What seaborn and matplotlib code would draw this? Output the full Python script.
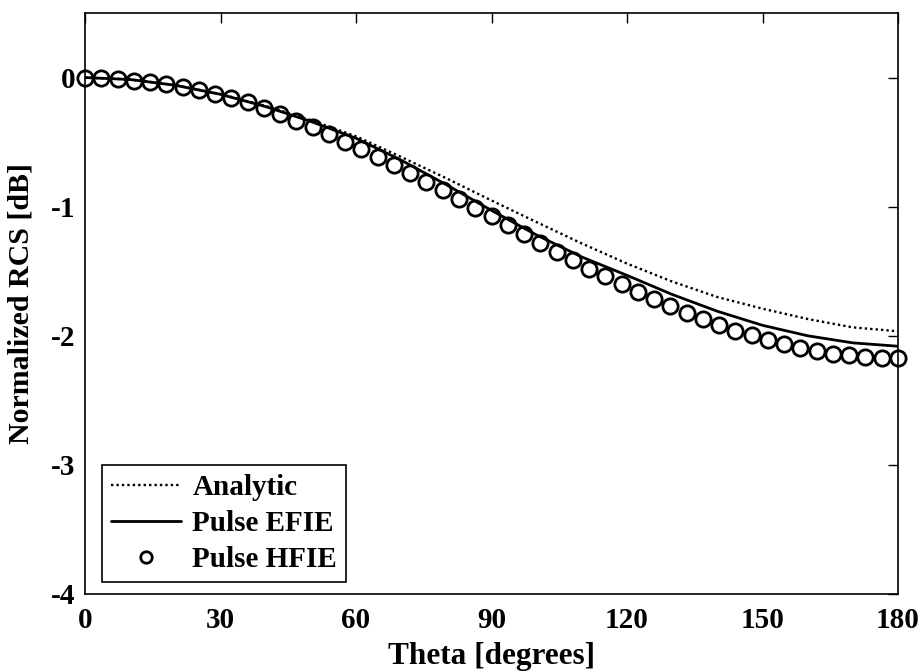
import numpy as np
import pandas as pd
import matplotlib
matplotlib.use("Agg")
import matplotlib.pyplot as plt
import seaborn as sns

# ---- data ----
theta_curve = [0, 10, 20, 30, 40, 50, 60, 70, 80, 90, 100, 110, 120, 130, 140, 150, 160, 170, 180]
analytic = [0.0, -0.015, -0.058, -0.128, -0.22, -0.33, -0.455, -0.615, -0.78, -0.952, -1.12,
            -1.285, -1.441, -1.58, -1.70, -1.79, -1.87, -1.935, -1.965]
pulse_efie = [0.0, -0.015, -0.06, -0.13, -0.225, -0.34, -0.47, -0.64, -0.83, -1.029, -1.22,
              -1.39, -1.532, -1.68, -1.81, -1.919, -2.00, -2.055, -2.081]

theta_hfie = np.arange(0, 180.01, 3.6)
pulse_hfie = [0.000, -0.002, -0.010, -0.023, -0.033, -0.049, -0.070, -0.095, -0.126, -0.157,
              -0.193, -0.234, -0.281, -0.333, -0.384, -0.436, -0.497, -0.556, -0.617, -0.675,
              -0.740, -0.807, -0.874, -0.938, -1.008, -1.073, -1.143, -1.209, -1.282, -1.352,
              -1.416, -1.480, -1.540, -1.598, -1.661, -1.717, -1.772, -1.826, -1.872, -1.919,
              -1.960, -1.996, -2.029, -2.066, -2.091, -2.117, -2.138, -2.151, -2.161, -2.169,
              -2.172]

x_ticks = [0, 30, 60, 90, 120, 150, 180]
y_ticks = [0, -1, -2, -3, -4]

sns.set_style("white")
plt.rcParams["font.family"] = ["Liberation Serif", "DejaVu Serif"]
plt.rcParams["font.weight"] = "bold"
plt.rcParams["axes.unicode_minus"] = False
for k in ["text.color", "axes.labelcolor", "xtick.color", "ytick.color", "axes.edgecolor"]:
    plt.rcParams[k] = "black"

fig = plt.figure(figsize=(9.23, 6.71), dpi=100)
ax = fig.add_axes([85 / 923, 77 / 671, (898 - 85) / 923, (594 - 13) / 671])

df_curve = pd.DataFrame({"theta": theta_curve, "analytic": analytic, "efie": pulse_efie})
df_h = pd.DataFrame({"theta": theta_hfie, "hfie": pulse_hfie})

sns.lineplot(data=df_curve, x="theta", y="analytic", ax=ax, color="black",
             linestyle=(0, (1, 1.3)), linewidth=1.7, label="Analytic")
sns.lineplot(data=df_curve, x="theta", y="efie", ax=ax, color="black",
             linestyle="-", linewidth=2.0, label="Pulse EFIE")
sns.lineplot(data=df_h, x="theta", y="hfie", ax=ax, color="black", linestyle="",
             marker="o", markersize=11, markerfacecolor="none", markeredgecolor="black",
             markeredgewidth=2.0, label="Pulse HFIE", clip_on=False)

ax.set_xlim(0, 180)
ax.set_ylim(-4, 0.5)
ax.set_xticks(x_ticks)
ax.set_yticks(y_ticks)
ax.set_xticklabels([str(v) for v in x_ticks])
ax.set_yticklabels([str(v) for v in y_ticks])
ax.tick_params(direction="in", length=7, width=1, top=True, right=True,
               labelsize=21, colors="black")
ax.tick_params(axis="x", pad=9)
ax.tick_params(axis="y", pad=7)
for lab in ax.get_xticklabels() + ax.get_yticklabels():
    lab.set_fontweight("bold")
for sp in ax.spines.values():
    sp.set_visible(True)
    sp.set_linewidth(1.2)
    sp.set_color("black")

ax.set_xlabel("Theta [degrees]", fontsize=22.5, fontweight="bold", labelpad=6)
ax.set_ylabel("Normalized RCS [dB]", fontsize=21.5, fontweight="bold", labelpad=12)

leg = ax.legend(loc="lower left", bbox_to_anchor=(0.021, 0.021), frameon=True,
                fancybox=False, edgecolor="black", framealpha=1, fontsize=21,
                handlelength=2.4, handletextpad=0.4, borderpad=0.3, labelspacing=0.31,
                markerscale=0.75, borderaxespad=0)
leg.get_frame().set_linewidth(1.2)
for t in leg.get_texts():
    t.set_fontweight("bold")

fig.savefig("out.png", dpi=100, facecolor="white")
